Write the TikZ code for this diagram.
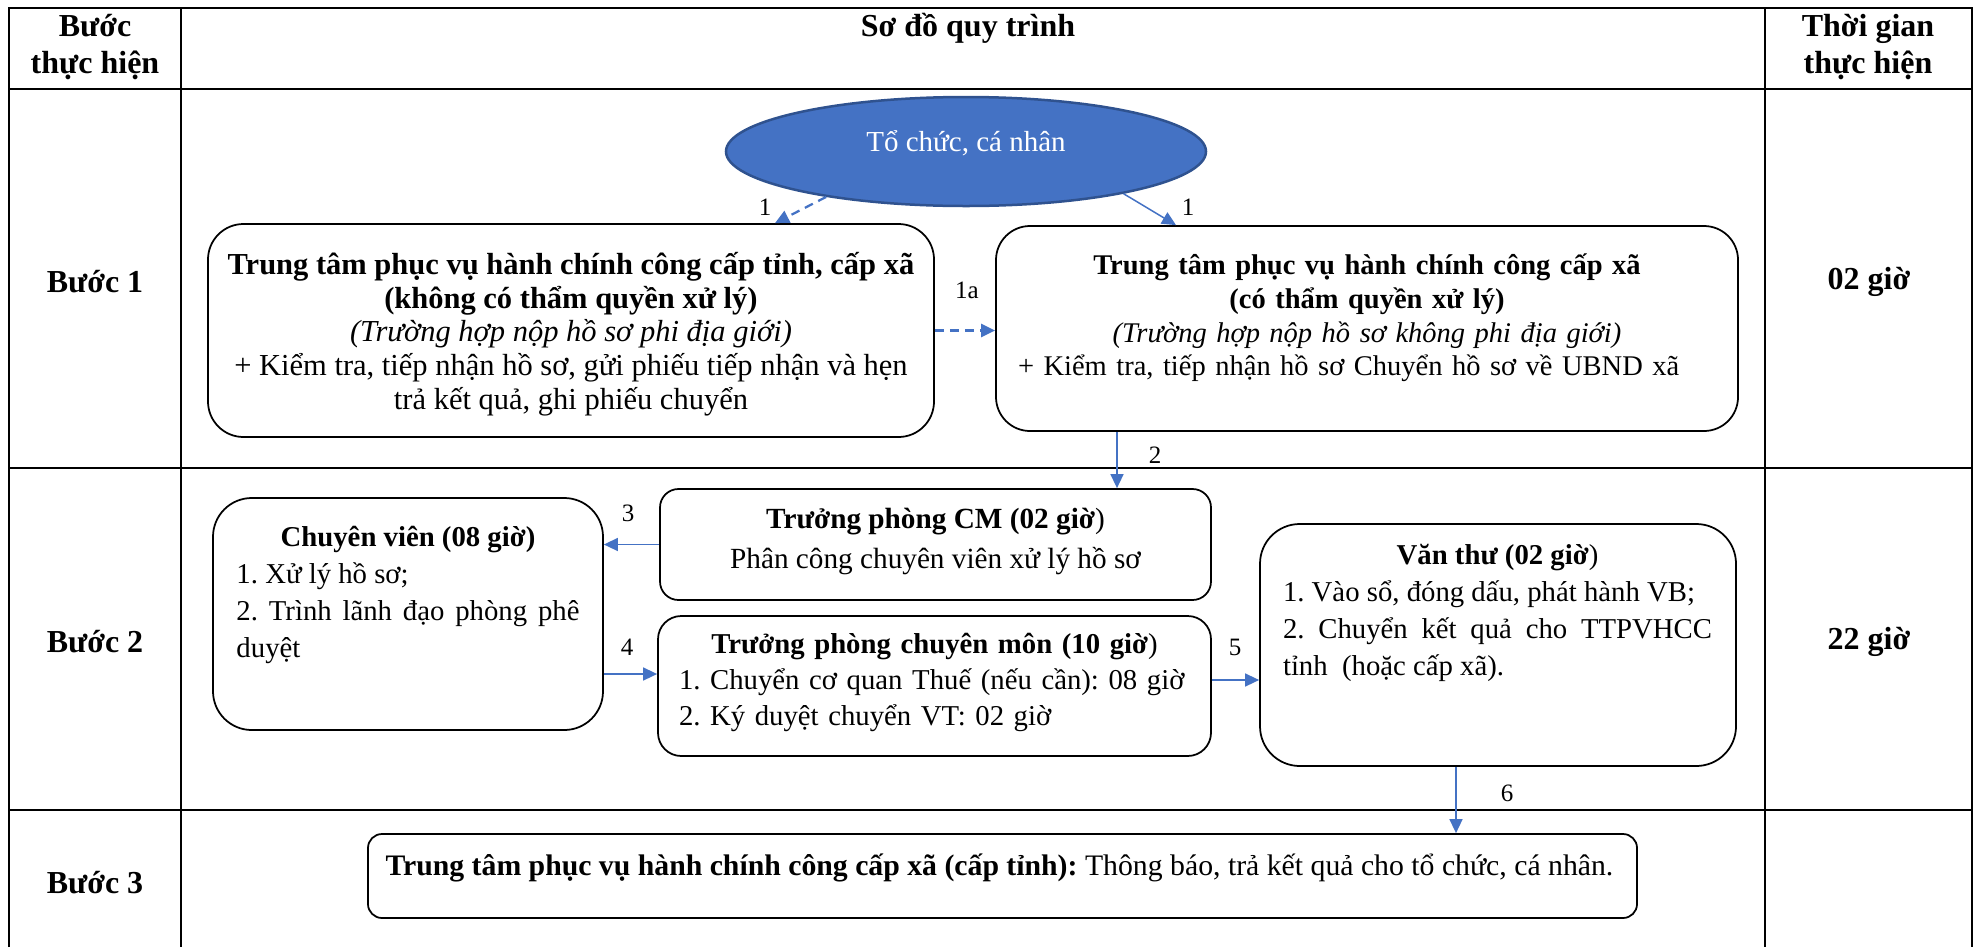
\documentclass[tikz,border=0pt]{standalone}
\usepackage{fontspec}
\setmainfont{Liberation Serif}
\usetikzlibrary{arrows.meta, calc, shapes.geometric}
\definecolor{flowblue}{HTML}{4472C4}
\definecolor{darkblue}{HTML}{2F528F}
\frenchspacing
\tikzset{
  grid/.style={line width=0.9pt},
  box/.style={draw, line width=0.7pt, inner sep=0pt},
  flow/.style={draw=flowblue, line width=0.6pt, -{Triangle[length=5.6pt, width=5.2pt]}},
  dflow/.style={flow, line width=0.9pt, dash pattern=on 3.6pt off 2.4pt},
  num/.style={font=\fontsize{10}{12}\selectfont, inner sep=0pt},
  head/.style={font=\fontsize{12.8}{14.8}\selectfont\bfseries, align=center, inner sep=0pt},
  txt/.style={font=\fontsize{11.4}{13.5}\selectfont, inner sep=0pt},
}
\begin{document}
\begin{tikzpicture}[x=0.4pt, y=-0.4pt]
\useasboundingbox (0,0) rectangle (1979,947);
% table
\draw[grid] (9,947) -- (9,8) -- (1972,8) -- (1972,947);
\draw[grid] (181,8) -- (181,947);
\draw[grid] (1765,8) -- (1765,947);
\draw[grid] (9,89) -- (1972,89);
\draw[grid] (9,468) -- (1972,468);
\draw[grid] (9,810) -- (1972,810);
\node[head] (hStep) at (95,47) {Bước\\thực hiện};
\node[head] (hFlow) at (968,28) {Sơ đồ quy trình};
\node[head] (hTime) at (1868,47) {Thời gian\\thực hiện};
\node[head] (step1) at (95,282) {Bước 1};
\node[head] (step2) at (95,642) {Bước 2};
\node[head] (step3) at (95,883) {Bước 3};
\node[head] (time1) at (1869,282) {02 giờ};
\node[head] (time2) at (1869,642) {22 giờ};

% step 1
\node[ellipse, fill=flowblue, draw=darkblue, line width=1pt, inner sep=0pt,
  minimum width=192pt, minimum height=43.6pt] (org) at (966,151.5) {};
\node[txt, text=white, font=\fontsize{11.6}{13.5}\selectfont] (orgText) at (966,143) {Tổ chức, cá nhân};
\node[box, rounded corners=14.2pt, minimum width=290.4pt, minimum height=85.2pt] (boxA) at (571,330.5) {};
\node[txt, align=center, font=\fontsize{12.2}{13.5}\selectfont] (boxAText) at (571,334) {\textbf{Trung tâm phục vụ hành chính công cấp tỉnh, cấp xã}\\
  \textbf{(không có thẩm quyền xử lý)}\\\textit{(Trường hợp nộp hồ sơ phi địa giới)}\\
  + Kiểm tra, tiếp nhận hồ sơ, gửi phiếu tiếp nhận và hẹn\\trả kết quả, ghi phiếu chuyển};
\node[box, rounded corners=13.6pt, minimum width=296.8pt, minimum height=82pt] (boxB) at (1367,328.5) {};
\node[txt, align=center, text width=279.2pt] (boxBText) at (1367,318) {\textbf{Trung tâm phục vụ hành chính công cấp xã}\\
  \textbf{(có thẩm quyền xử lý)}\\\textit{(Trường hợp nộp hồ sơ không phi địa giới)}\\
  \makebox[\linewidth][l]{+ Kiểm tra, tiếp nhận hồ sơ Chuyển hồ sơ về UBND xã}};

% step 2
\node[box, rounded corners=15.5pt, minimum width=156pt, minimum height=92.8pt] (boxC) at (408,614) {};
\node[txt, font=\fontsize{11.5}{14.7}\selectfont, align=justify, text width=137.2pt] (boxCText) at (408,595)
  {\makebox[\linewidth]{\textbf{Chuyên viên (08 giờ)}}\\1. Xử lý hồ sơ;\\2. Trình lãnh đạo phòng phê\linebreak duyệt};
\node[box, rounded corners=7.4pt, minimum width=220.4pt, minimum height=44.4pt] (boxD) at (935.5,544.5) {};
\node[txt, align=center, font=\fontsize{11.7}{13.5}\selectfont] (boxDText) at (935.5,541) {\textbf{Trưởng phòng CM (02 giờ})\\[2.5pt]Phân công chuyên viên xử lý hồ sơ};
\node[box, rounded corners=9.3pt, minimum width=221.2pt, minimum height=56pt] (boxE) at (934.5,686) {};
\node[txt, font=\fontsize{11.5}{14.4}\selectfont, align=left, text width=204.4pt] (boxEText) at (934.5,682.5)
  {\makebox[\linewidth]{\textbf{Trưởng phòng chuyên môn (10 giờ})}\\1. Chuyển cơ quan Thuế (nếu cần): 08 giờ\\2. Ký duyệt chuyển VT: 02 giờ};
\node[box, rounded corners=15.9pt, minimum width=190.4pt, minimum height=96.8pt] (boxF) at (1498,645) {};
\node[txt, font=\fontsize{11.5}{14.7}\selectfont, align=justify, text width=171.6pt] (boxFText) at (1497.5,613)
  {\makebox[\linewidth]{\textbf{Văn thư (02 giờ})}\\1. Vào sổ, đóng dấu, phát hành VB;\\2. Chuyển kết quả cho TTPVHCC\linebreak tỉnh~ (hoặc cấp xã).};

% step 3
\node[box, rounded corners=5.6pt, minimum width=507.6pt, minimum height=33.6pt] (boxG) at (1002.5,876) {};
\node[txt, anchor=west, font=\fontsize{11.9}{13.5}\selectfont] (boxGText) at (385,868) {\textbf{Trung tâm phục vụ hành chính công cấp xã (cấp tỉnh):} Thông báo, trả kết quả cho tổ chức, cá nhân.};

% connectors
\draw[dflow] (org.198) -- ($(boxA.north)+(204,0)$);
\draw[flow] (org.-15) -- ($(boxB.north)+(-191,0)$);
\draw[dflow] (boxA.east) -- (boxA.east -| boxB.west);
\coordinate (b2) at ($(boxB.south)+(-250,0)$);
\draw[flow] (b2) -- (b2 |- boxD.north);
\draw[flow] (boxD.west) -- (boxD.west -| boxC.east);
\coordinate (c4) at ($(boxE.west)+(0,-12)$);
\draw[flow] (c4 -| boxC.east) -- (c4);
\coordinate (e5) at ($(boxE.east)+(0,-6)$);
\draw[flow] (e5) -- (e5 -| boxF.west);
\coordinate (f6) at ($(boxF.south)+(-42,0)$);
\draw[flow] (f6) -- (f6 |- boxG.north);
\node[num] (n1) at (765,207) {1};
\node[num] (n1b) at (1188,207) {1};
\node[num] (n1a) at (967,290) {1a};
\node[num] (n2) at (1155,455) {2};
\node[num] (n3) at (628,513) {3};
\node[num] (n4) at (627,647) {4};
\node[num] (n5) at (1235,647) {5};
\node[num] (n6) at (1507,793) {6};
\end{tikzpicture}
\end{document}
